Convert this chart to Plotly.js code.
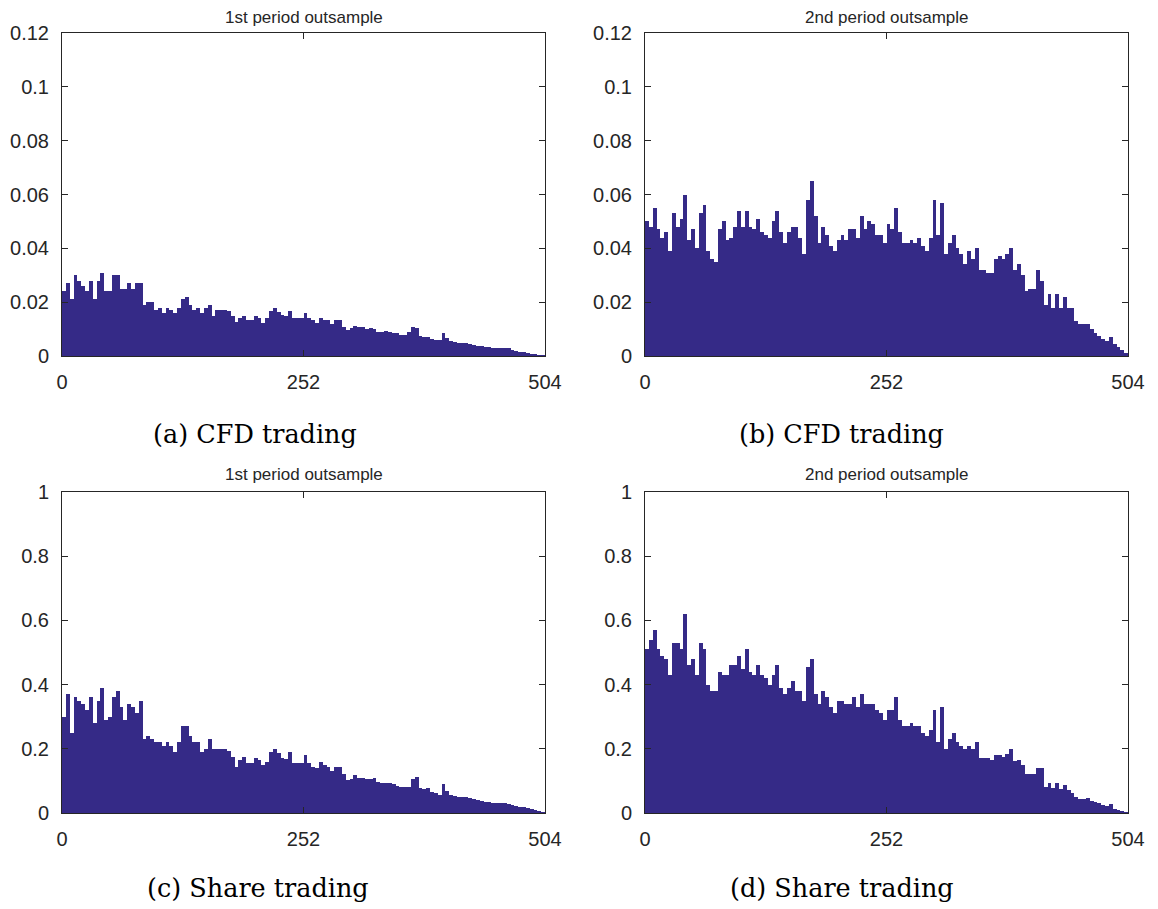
<!DOCTYPE html>
<html><head><meta charset="utf-8">
<script src="https://cdn.plot.ly/plotly-3.0.1.min.js"></script>
<style>html,body{margin:0;padding:0;background:#fff}#chart{width:1158px;height:909px}</style>
</head><body><div id="chart"></div>
<script>
// Each value = bar height over a 4-day block of the 504-day outsample
const binWidth = 4;
const xTickVals = [0, 252, 504];
const titles = ["1st period outsample", "2nd period outsample", "1st period outsample", "2nd period outsample"];
const captions = ["(a) CFD trading", "(b) CFD trading", "(c) Share trading", "(d) Share trading"];

const cfd1 = [0.024,0.027,0.021,0.030,0.028,0.026,0.024,0.028,0.021,0.028,
0.031,0.024,0.024,0.030,0.030,0.025,0.025,0.027,0.025,0.027,
0.027,0.019,0.020,0.020,0.017,0.018,0.016,0.018,0.017,0.016,
0.018,0.021,0.022,0.019,0.017,0.018,0.016,0.018,0.019,0.015,
0.017,0.017,0.017,
0.0166,0.015,0.0128,0.014,0.015,0.0135,0.0135,0.0147,0.014,0.0122,
0.014,0.0166,0.0178,0.0162,0.0153,0.015,0.0166,0.014,0.014,0.014,
0.016,0.014,0.0132,0.0122,0.014,0.0135,0.0132,0.012,0.0135,0.0135,
0.0107,0.0097,0.0103,0.011,0.0107,0.0106,0.010,0.0103,0.010,0.009,0.009,
0.0093,0.009,0.0087,0.0085,0.0078,0.0078,0.009,0.0107,0.0103,0.0075,
0.007,0.0072,0.0065,0.006,0.006,0.0087,0.0066,0.0056,0.0051,0.005,
0.0047,0.0047,0.0045,0.0041,0.0039,0.0036,0.0035,0.0032,0.0031,0.0031,
0.0031,0.003,0.0029,0.0022,0.0019,0.0016,0.0014,0.0011,0.0009,0.0006,
0.0003,0.0002];

const cfd2 = [0.050,0.048,0.055,0.047,0.044,0.046,0.039,0.053,0.048,0.051,
0.060,0.043,0.047,0.040,0.053,0.056,0.039,0.036,0.035,0.047,
0.050,0.043,0.044,0.048,0.054,0.048,0.054,0.048,0.047,0.051,
0.046,0.045,0.044,0.050,0.054,0.046,0.042,0.046,0.048,0.048,
0.044,0.038,0.058,
0.065,0.052,0.042,0.048,0.045,0.041,0.039,0.043,0.045,0.043,
0.047,0.047,0.044,0.052,0.047,0.050,0.049,0.045,0.045,0.042,
0.049,0.047,0.055,0.046,0.042,0.042,0.043,0.042,0.044,0.041,
0.039,0.044,0.058,0.045,0.057,0.038,0.042,0.045,0.040,0.038,0.034,
0.039,0.036,0.040,0.032,0.032,0.031,0.031,0.036,0.037,0.036,
0.038,0.040,0.032,0.034,0.030,0.024,0.025,0.025,0.032,0.028,
0.019,0.023,0.018,0.023,0.018,0.022,0.018,0.018,0.013,0.012,
0.012,0.012,0.010,0.0086,0.0075,0.0065,0.0057,0.0072,0.0043,0.0032,
0.0022,0.0012];

const share1 = [0.30,0.37,0.25,0.36,0.35,0.34,0.32,0.36,0.28,0.35,
0.39,0.29,0.30,0.36,0.38,0.33,0.29,0.34,0.33,0.31,
0.35,0.23,0.24,0.23,0.22,0.22,0.21,0.22,0.21,0.19,
0.22,0.27,0.27,0.24,0.22,0.22,0.19,0.20,0.23,0.20,
0.20,0.20,0.20,
0.194,0.176,0.144,0.165,0.176,0.157,0.155,0.17,0.165,0.15,
0.16,0.19,0.20,0.188,0.17,0.167,0.19,0.155,0.155,0.155,
0.18,0.157,0.144,0.139,0.16,0.15,0.144,0.132,0.144,0.144,
0.122,0.103,0.105,0.118,0.108,0.11,0.105,0.105,0.108,0.098,0.092,
0.092,0.092,0.089,0.085,0.08,0.08,0.082,0.105,0.111,0.079,
0.074,0.077,0.066,0.061,0.057,0.09,0.07,0.056,0.052,0.051,
0.05,0.049,0.048,0.044,0.04,0.036,0.035,0.033,0.032,0.031,
0.03,0.03,0.028,0.025,0.022,0.02,0.018,0.015,0.012,0.009,
0.006,0.003];

const share2 = [0.51,0.54,0.57,0.51,0.49,0.48,0.43,0.53,0.53,0.51,
0.62,0.46,0.48,0.43,0.53,0.51,0.40,0.38,0.38,0.44,
0.43,0.43,0.46,0.46,0.49,0.45,0.51,0.44,0.43,0.46,
0.43,0.42,0.40,0.43,0.46,0.39,0.37,0.39,0.41,0.38,
0.38,0.35,0.455,
0.48,0.37,0.34,0.38,0.36,0.33,0.31,0.35,0.35,0.34,
0.34,0.36,0.33,0.37,0.34,0.34,0.34,0.32,0.31,0.29,
0.32,0.32,0.36,0.29,0.27,0.27,0.28,0.27,0.27,0.25,
0.24,0.26,0.32,0.22,0.33,0.20,0.23,0.25,0.22,0.21,0.20,
0.21,0.20,0.22,0.17,0.17,0.17,0.165,0.18,0.18,0.175,
0.185,0.20,0.163,0.165,0.15,0.12,0.123,0.123,0.139,0.139,
0.082,0.094,0.077,0.094,0.074,0.088,0.071,0.063,0.051,0.045,
0.045,0.046,0.037,0.033,0.031,0.026,0.022,0.028,0.013,0.009,
0.006,0.003];

const series = [cfd1, cfd2, share1, share2];
const barColor = '#352A87';
const axisColor = '#262626';
const tickFont = {family: 'Liberation Sans, Arial, sans-serif', size: 20, color: axisColor};

const traces = series.map((vals, k) => ({
  type: 'bar',
  x: vals.map((_, i) => i * binWidth + binWidth / 2),
  y: vals,
  width: binWidth,
  marker: {color: barColor, line: {width: 0}},
  xaxis: k === 0 ? 'x' : 'x' + (k + 1),
  yaxis: k === 0 ? 'y' : 'y' + (k + 1),
  hoverinfo: 'x+y',
  showlegend: false
}));

const W = 1158, H = 909;
const xDom = [[62 / W, 545 / W], [645 / W, 1128 / W]];
const yDom = [[1 - 356 / H, 1 - 33 / H], [1 - 813 / H, 1 - 492 / H]];

function xa(col, anchor) {
  return {domain: xDom[col], anchor: anchor, range: [0, 504], tickvals: xTickVals,
    ticks: 'inside', ticklen: 6, tickcolor: axisColor, showline: true, mirror: 'ticks',
    linecolor: axisColor, linewidth: 1, showgrid: false, zeroline: false,
    tickfont: tickFont, ticklabelstandoff: 8, fixedrange: true};
}
function ya(row, anchor, top, dt) {
  return {domain: yDom[row], anchor: anchor, range: [0, top], dtick: dt, tick0: 0,
    ticks: 'inside', ticklen: 6, tickcolor: axisColor, showline: true, mirror: 'ticks',
    linecolor: axisColor, linewidth: 1, showgrid: false, zeroline: false,
    tickfont: tickFont, ticklabelstandoff: 8, fixedrange: true};
}

const titlePos = [[303.5, 17], [886.5, 17], [303.5, 474], [886.5, 474]];
const capPos = [[255, 434], [841, 434], [258, 888], [842, 888]];
const annotations = [];
titles.forEach((t, k) => annotations.push({text: t, xref: 'paper', yref: 'paper',
  x: titlePos[k][0] / W, y: 1 - titlePos[k][1] / H, showarrow: false,
  xanchor: 'center', yanchor: 'middle',
  font: {family: 'Liberation Sans, Arial, sans-serif', size: 17, color: axisColor}}));
captions.forEach((t, k) => annotations.push({text: t, xref: 'paper', yref: 'paper',
  x: capPos[k][0] / W, y: 1 - capPos[k][1] / H, showarrow: false,
  xanchor: 'center', yanchor: 'middle',
  font: {family: 'DejaVu Serif, serif', size: 25.5, color: '#000'}}));

const layout = {
  width: W, height: H, margin: {l: 0, r: 0, t: 0, b: 0},
  paper_bgcolor: '#fff', plot_bgcolor: '#fff', bargap: 0, showlegend: false,
  xaxis: xa(0, 'y'), yaxis: ya(0, 'x', 0.12, 0.02),
  xaxis2: xa(1, 'y2'), yaxis2: ya(0, 'x2', 0.12, 0.02),
  xaxis3: xa(0, 'y3'), yaxis3: ya(1, 'x3', 1, 0.2),
  xaxis4: xa(1, 'y4'), yaxis4: ya(1, 'x4', 1, 0.2),
  annotations: annotations
};

Plotly.newPlot('chart', traces, layout, {displayModeBar: false, staticPlot: true});
</script></body></html>
